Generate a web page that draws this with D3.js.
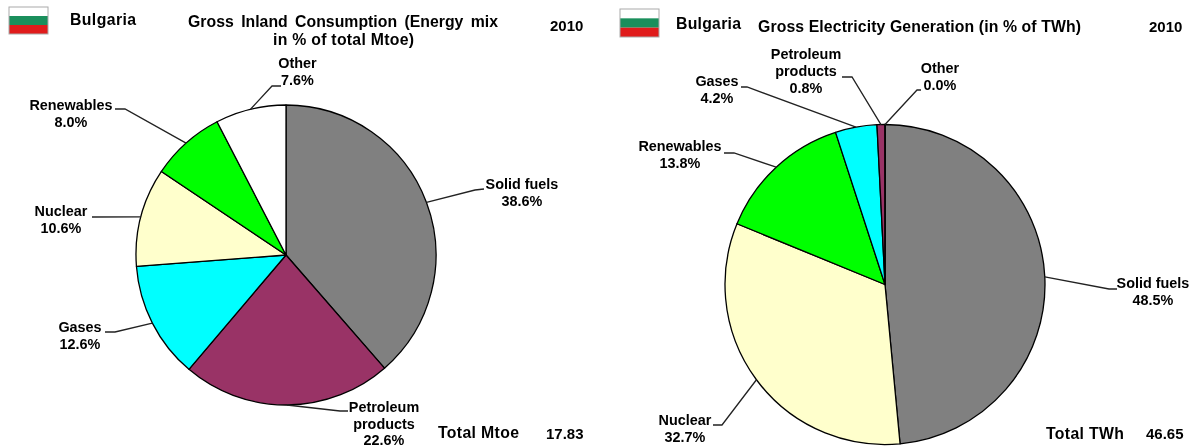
<!DOCTYPE html>
<html><head><meta charset="utf-8">
<script src="https://cdn.jsdelivr.net/npm/d3@7"></script>
<style>
html,body{margin:0;padding:0;background:#fff;overflow:hidden}
svg{filter:blur(0.35px)}
text{font-family:"Liberation Sans",Arial,sans-serif;font-weight:bold;font-size:14.4px;fill:#000;}
text.head{font-size:15.8px}
text.num{font-size:15px}
</style></head><body>
<svg id="c" width="1195" height="448" xmlns="http://www.w3.org/2000/svg"></svg>
<script>
const country = "Bulgaria";
const year = "2010";
const leftCategories = ["Solid fuels","Petroleum products","Gases","Nuclear","Renewables","Other"];
const leftValues = [38.6,22.6,12.6,10.6,8.0,7.6];
const leftColors = ["#808080","#993366","#00ffff","#ffffcc","#00ff00","#ffffff"];
const leftTotalLabel = "Total Mtoe";
const leftTotal = "17.83";
const rightCategories = ["Solid fuels","Nuclear","Renewables","Gases","Petroleum products","Other"];
const rightValues = [48.5,32.7,13.8,4.2,0.8,0.0];
const rightColors = ["#808080","#ffffcc","#00ff00","#00ffff","#993366","#ffffff"];
const rightTotalLabel = "Total TWh";
const rightTotal = "46.65";
const flagColors = ["#ffffff","#1a8f5c","#e01b1b"];

// layout: label lines, label centre x, first baseline, line height, leader elbow points
const leftLayout = {
 "Solid fuels":{lines:["Solid fuels"],x:522,y:189,pts:[[475,190],[484,189]]},
 "Petroleum products":{lines:["Petroleum","products"],x:384,y:412,lh:16.5,pts:[[340,411],[348,411]]},
 "Gases":{lines:["Gases"],x:80,y:332,pts:[[115,332],[105,332]]},
 "Nuclear":{lines:["Nuclear"],x:61,y:216,pts:[[92,217]]},
 "Renewables":{lines:["Renewables"],x:71,y:110,pts:[[125,109],[115,109]]},
 "Other":{lines:["Other"],x:297.5,y:68,pts:[[272,86],[281,86]]}
};
const rightLayout = {
 "Solid fuels":{lines:["Solid fuels"],x:1153,y:288,pts:[[1109,289],[1117,289]]},
 "Nuclear":{lines:["Nuclear"],x:685,y:425,pts:[[722,425],[713,425]]},
 "Renewables":{lines:["Renewables"],x:680,y:151,pts:[[734,153],[724,153]]},
 "Gases":{lines:["Gases"],x:717,y:86,pts:[[747,87],[741,87]]},
 "Petroleum products":{lines:["Petroleum","products"],x:806,y:59,pts:[[852,77],[842,77]]},
 "Other":{lines:["Other"],x:940,y:73,pts:[[917,90],[921,90]]}
};

const svg = d3.select("#c");
const LH = 17;

function drawPie(cfg){
  const pie = d3.pie().sort(null).value(d=>d.v);
  const rows = cfg.cats.map((c,i)=>({c,v:cfg.vals[i],col:cfg.cols[i]}));
  const arcs = pie(rows);
  const arc = d3.arc().innerRadius(0).outerRadius(cfg.r);
  const edge = d3.arc().innerRadius(cfg.r).outerRadius(cfg.r);
  const g = svg.append("g").attr("transform",`translate(${cfg.cx},${cfg.cy})`);
  g.selectAll("path.s").data(arcs).join("path").attr("class","s")
    .attr("d",arc).attr("fill",d=>d.data.col).attr("stroke","#000").attr("stroke-width",1.3).attr("stroke-linejoin","round");
  const line = d3.line();
  arcs.forEach(a=>{
    const L = cfg.layout[a.data.c];
    const p0 = edge.centroid(a);
    const p = [[p0[0]+cfg.cx,p0[1]+cfg.cy],...L.pts];
    svg.append("path").attr("d",line(p)).attr("fill","none").attr("stroke","#222").attr("stroke-width",1.3);
    const ls = [...L.lines, a.data.v.toFixed(1)+"%"];
    ls.forEach((t,i)=>svg.append("text").attr("x",L.x).attr("y",L.y+i*(L.lh||LH)).attr("text-anchor","middle").text(t));
  });
}
function flag(x,y,w,h){
  const b = d3.scaleBand().domain(d3.range(flagColors.length)).range([y,y+h]);
  svg.append("g").selectAll("rect").data(flagColors).join("rect")
    .attr("x",x).attr("width",w).attr("y",(d,i)=>b(i)).attr("height",b.bandwidth()).attr("fill",d=>d);
  svg.append("rect").attr("x",x).attr("y",y).attr("width",w).attr("height",h).attr("fill","none").attr("stroke","#aaa").attr("stroke-width",1);
}
function txt(t,x,y,cls,anchor,len){
  const n = svg.append("text").attr("class",cls).attr("x",x).attr("y",y).attr("text-anchor",anchor||"start").text(t);
  if(len) n.attr("textLength",len).attr("lengthAdjust","spacing");
  return n;
}

flag(9,7,39,27);
flag(620,9,39,28);
txt(country,70,25,"head","start",66);
txt("Gross Inland Consumption (Energy mix",188,27,"head","start",310).style("word-spacing","3px");
txt("in % of total Mtoe)",273,45,"head","start",141);
txt(year,550,31,"num");
txt(country,676,29,"head","start",65);
txt("Gross Electricity Generation (in % of TWh)",758,32,"head","start",323);
txt(year,1149,32,"num");
txt(leftTotalLabel,438,438,"head","start",81);
txt(leftTotal,546,439,"num");
txt(rightTotalLabel,1046,439,"head","start",78);
txt(rightTotal,1146,439,"num");

drawPie({cats:leftCategories,vals:leftValues,cols:leftColors,cx:286,cy:255,r:150,layout:leftLayout});
drawPie({cats:rightCategories,vals:rightValues,cols:rightColors,cx:885,cy:284.5,r:160,layout:rightLayout});
</script></body></html>
